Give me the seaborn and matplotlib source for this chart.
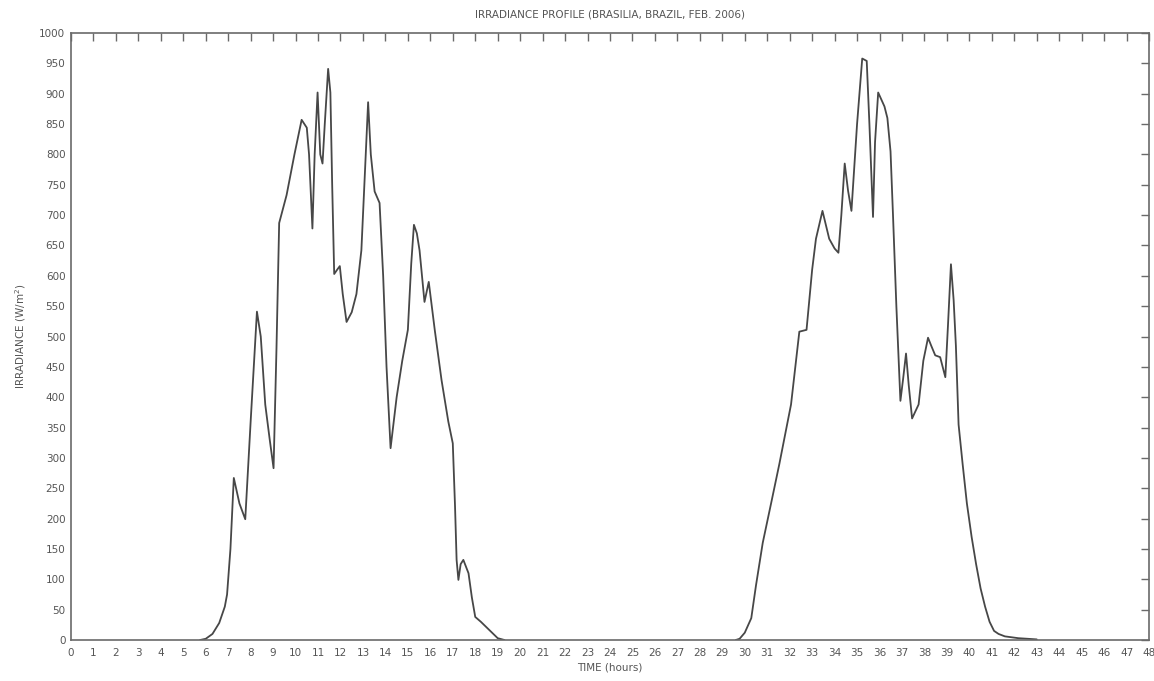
import matplotlib
matplotlib.use("Agg")
import matplotlib.pyplot as plt
import seaborn as sns
import pandas as pd

# Solar irradiance samples, day 1 (hours, W/m^2)
day1_hours = [5.75, 6.0, 6.3, 6.6, 6.85, 6.95, 7.1, 7.25, 7.5, 7.76, 8.0, 8.28, 8.45, 8.65,
              8.85, 9.02, 9.15, 9.27, 9.6, 9.95, 10.27, 10.5, 10.6, 10.75, 10.85, 10.98,
              11.1, 11.2, 11.3, 11.45, 11.55, 11.63, 11.72, 11.85, 11.97, 12.1, 12.27,
              12.5, 12.71, 12.93, 13.1, 13.23, 13.35, 13.52, 13.74, 13.9, 14.05, 14.23,
              14.5, 14.75, 15.0, 15.15, 15.27, 15.4, 15.52, 15.74, 15.93, 16.2, 16.5,
              16.8, 17.0, 17.1, 17.17, 17.25, 17.35, 17.47, 17.7, 17.85, 18.0, 18.25,
              18.5, 18.75, 19.0, 19.3]
day1_irradiance = [0, 2, 10, 28, 55, 75, 150, 267, 225, 199, 360, 541, 500, 388,
                   330, 283, 480, 687, 733, 800, 857, 844, 800, 678, 800, 902,
                   800, 785, 850, 941, 902, 750, 603, 610, 616, 570, 524,
                   540, 570, 642, 780, 886, 800, 739, 720, 600, 450, 316,
                   400, 460, 511, 620, 684, 670, 642, 557, 590, 510, 428,
                   360, 324, 220, 132, 99, 125, 132, 110, 70, 38, 30,
                   21, 12, 3, 0]

# Solar irradiance samples, day 2
day2_hours = [29.6, 29.77, 30.0, 30.29, 30.5, 30.8, 31.2, 31.54, 32.06, 32.43, 32.75,
              33.0, 33.17, 33.46, 33.76, 34.0, 34.17, 34.3, 34.45, 34.6, 34.75, 35.0,
              35.23, 35.43, 35.55, 35.71, 35.8, 35.94, 36.22, 36.35, 36.49, 36.6,
              36.75, 36.93, 37.05, 37.18, 37.3, 37.45, 37.74, 37.95, 38.16, 38.3,
              38.48, 38.7, 38.93, 39.05, 39.18, 39.3, 39.4, 39.52, 39.7, 39.89,
              40.1, 40.3, 40.5, 40.7, 40.9, 41.1, 41.3, 41.58, 42.18, 42.6, 43.0]
day2_irradiance = [0, 2, 12, 36, 90, 160, 230, 290, 388, 508, 511,
                   610, 661, 707, 661, 645, 638, 700, 785, 740, 707, 850,
                   958, 954, 850, 697, 820, 902, 879, 860, 805, 700,
                   550, 394, 430, 472, 420, 365, 388, 460, 498, 485,
                   469, 466, 433, 520, 619, 560, 485, 355, 290, 225,
                   170, 125, 85, 55, 30, 15, 10, 6, 3, 2, 1]

x_ticks = list(range(0, 49))
y_ticks = list(range(0, 1001, 50))

sns.set_style("white")
plt.rcParams["font.family"] = ["DejaVu Sans"]

fig = plt.figure(figsize=(11.54, 6.81), dpi=100)
ax = fig.add_axes([0.0615, 0.0602, 0.9342, 0.8913])

line_color = "#474747"
for hrs, vals in ((day1_hours, day1_irradiance), (day2_hours, day2_irradiance)):
    df = pd.DataFrame({"TIME": hrs, "IRR": vals})
    sns.lineplot(data=df, x="TIME", y="IRR", ax=ax, color=line_color,
                 linewidth=1.3, sort=False, estimator=None)

ax.set_xlim(0, 48)
ax.set_ylim(0, 1000)
ax.set_xticks(x_ticks)
ax.set_yticks(y_ticks)
ax.set_xticklabels([str(t) for t in x_ticks])
ax.set_yticklabels([str(t) for t in y_ticks])

axis_gray = "#6a6a6a"
text_gray = "#555555"
for s in ax.spines.values():
    s.set_visible(True)
    s.set_color(axis_gray)
    s.set_linewidth(1.2)
ax.tick_params(direction="in", top=True, right=True, length=6, width=1.0,
               color=axis_gray, labelsize=7.5, labelcolor=text_gray)
ax.tick_params(axis="x", pad=6)
ax.tick_params(axis="y", pad=4)

ax.set_title("IRRADIANCE PROFILE (BRASILIA, BRAZIL, FEB. 2006)", fontsize=7.5,
             color=text_gray, pad=11)
ax.set_xlabel("TIME (hours)", fontsize=7.5, color=text_gray, labelpad=3)
ax.set_ylabel("IRRADIANCE (W/m$^2$)", fontsize=7.5, color=text_gray, labelpad=8)

fig.savefig("out.png", dpi=100, facecolor="white")
